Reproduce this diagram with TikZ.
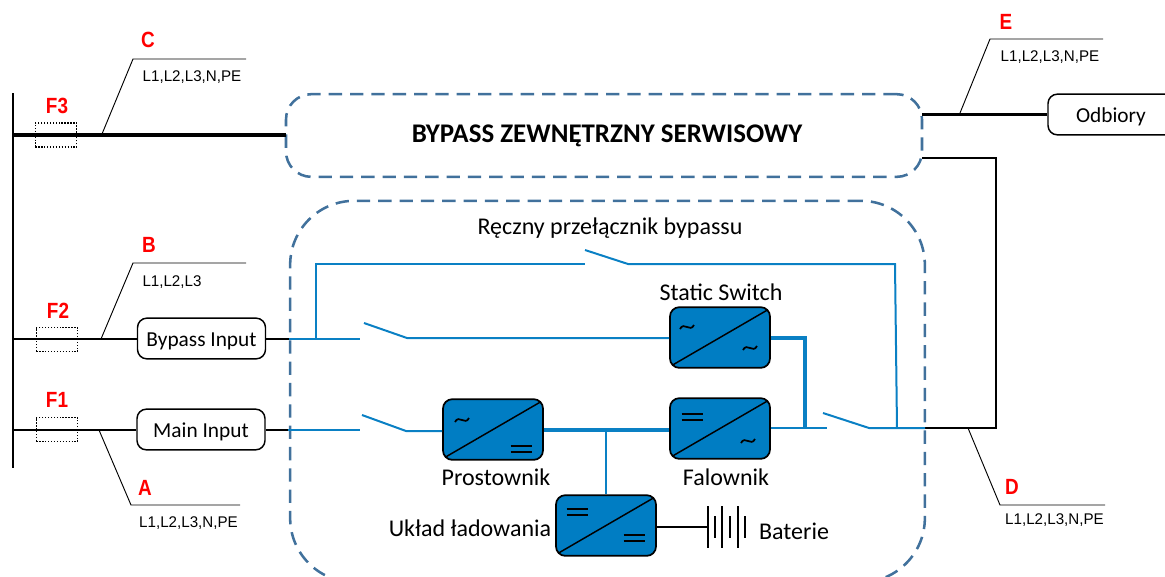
\documentclass[tikz,border=0pt]{standalone}
\usepackage{fontspec}
\setmainfont{Carlito}
\newfontfamily\tagfont[FakeStretch=0.98]{Liberation Sans}
\newfontfamily\markfont[FakeStretch=0.86]{Liberation Sans}
\usepackage{tikz}
\usetikzlibrary{calc}
\definecolor{wireblue}{HTML}{0A80C4}
\definecolor{boxblue}{HTML}{007DC3}
\definecolor{dashblue}{HTML}{41719C}
\tikzset{
    wire/.style={line width=1.5pt, wireblue},
    busline/.style={line width=2.3pt, wireblue},
    feed/.style={line width=1.5pt, black},
    mainfeed/.style={line width=2.3pt, black},
    leader/.style={line width=0.7pt, black},
    fuse/.style={draw, dash pattern=on 1pt off 1.2pt, line width=1pt, minimum width=31pt, minimum height=18pt, inner sep=0pt},
    inbox/.style={draw, line width=1.1pt, rounded corners=7pt, minimum width=96pt, minimum height=30.5pt, inner sep=0pt, text height=12pt, text depth=0pt, font=\fontsize{16}{18}\selectfont},
    conv/.style={draw, fill=boxblue, line width=1.3pt, rounded corners=7pt, minimum width=75pt, minimum height=45.5pt, inner sep=0pt},
    dashbox/.style={draw=dashblue, line width=1.9pt, dash pattern=on 10pt off 6pt, rounded corners=19pt, inner sep=0pt},
    lab/.style={inner sep=0pt, font=\fontsize{18}{20}\selectfont},
    tag/.style={inner sep=0pt, font=\tagfont\fontsize{11.6}{14}\selectfont},
    redtag/.style={inner sep=0pt, red, font=\markfont\bfseries\fontsize{16.5}{20}\selectfont},
    dcmark/.pic={\draw[line width=1.2pt] (-10.5,-3) -- (10.5,-3); \draw[line width=1.2pt] (-10.5,3) -- (10.5,3);},
    acmark/.pic={\draw[line width=1.3pt] (-7,2) .. controls (-3,-6) and (3,6) .. (7,-2);}
}
\begin{document}
\begin{tikzpicture}[x=0.75pt, y=-0.75pt]
    \clip (0,0) rectangle (1165,576);

    % bus and fuses
    \coordinate (bustop) at (13,93);
    \coordinate (busbot) at (13,468);
    \draw[line width=1.5pt] (bustop) -- (busbot);
    \node[fuse] (fthree) at (56,135) {};
    \node[fuse] (ftwo) at (57,339.5) {};
    \node[fuse] (fone) at (57,429.5) {};
    \node[redtag] (fthreelab) at (57,106) {F3};
    \node[redtag] (ftwolab) at (58,311) {F2};
    \node[redtag] (fonelab) at (57,400) {F1};

    % input and output boxes
    \node[inbox] (bypassin) at (201.5,338.5) {Bypass Input};
    \node[inbox] (mainin) at (201,429.5) {Main Input};
    \node[inbox, minimum width=94.5pt] (odbiory) at (1111,114.5) {Odbiory};
    \node[dashbox, minimum width=477pt, minimum height=62pt] (serwis) at (604,135.5) {};
    \node[inner sep=0pt, font=\bfseries\fontsize{20.2}{22}\selectfont] (serwislab) at (607,136) {BYPASS ZEWNĘTRZNY SERWISOWY};
    \node[dashbox, rounded corners=48pt, minimum width=476pt, minimum height=286pt] (ups) at (607.5,391.5) {};

    % converters
    \node[conv] (static) at (720,337.5) {};
    \node[conv] (prost) at (493,429.5) {};
    \node[conv] (fal) at (720,428.5) {};
    \node[conv] (lad) at (606,525.5) {};
    \foreach \c in {static,prost,fal,lad}
        \draw[line width=1.1pt] ([xshift=3pt,yshift=3pt]\c.south west) -- ([xshift=-3pt,yshift=-3pt]\c.north east);
    \pic at (687,327) {acmark};
    \pic at (750,348) {acmark};
    \pic at (462,420) {acmark};
    \pic at (521,449) {dcmark};
    \pic at (692,417) {dcmark};
    \pic at (748,441) {acmark};
    \pic at (577,512) {dcmark};
    \pic at (634,538) {dcmark};

    % black feeds
    \coordinate (cfeed) at (286,135);
    \coordinate (eout) at (922,114.5);
    \coordinate (dout) at (922,158);
    \coordinate (dcor) at (996,158);
    \coordinate (dbot) at (996,428);
    \coordinate (dend) at (925,428);
    \coordinate (bedge) at (289,338.5);
    \coordinate (medge) at (288,429.5);
    \draw[mainfeed] (bustop |- fthree) -- (cfeed);
    \draw[feed] (bustop |- bypassin) -- (bypassin);
    \draw[feed] (bustop |- mainin) -- (mainin);
    \draw[feed] (bypassin) -- (bedge);
    \draw[feed] (mainin) -- (medge);
    \draw[mainfeed] (eout) -- (odbiory);
    \draw[feed] (dout) -- (dcor) -- (dbot) -- (dend);

    % blue wiring
    \coordinate (bstub) at (360,338.5);
    \coordinate (bsw) at (364,323);
    \coordinate (bpiv) at (407,338);
    \coordinate (mstub) at (360,429.5);
    \coordinate (msw) at (362,415);
    \coordinate (mpiv) at (406,431);
    \coordinate (tap) at (316,338.5);
    \coordinate (tapup) at (316,264);
    \coordinate (topl) at (585,264);
    \coordinate (tops) at (585,250);
    \coordinate (topr) at (628,264);
    \coordinate (tcor) at (895,264);
    \coordinate (tdn) at (897,428);
    \coordinate (ojoin) at (805,428);
    \coordinate (ocor) at (805,338);
    \coordinate (ostub) at (827,428);
    \coordinate (osw) at (823,413);
    \coordinate (opiv) at (869,428);
    \coordinate (dcjoin) at (606,430);
    \draw[wire] (bedge) -- (bstub);
    \draw[wire] (bsw) -- (bpiv) -- (static.west |- bpiv);
    \draw[wire] (medge) -- (mstub);
    \draw[wire] (msw) -- (mpiv) -- (prost.west |- mpiv);
    \draw[wire] (tap) -- (tapup) -- (topl);
    \draw[wire] (tops) -- (topr) -- (tcor) -- (tdn);
    \draw[busline] (prost.east |- dcjoin) -- (fal.west |- dcjoin);
    \draw[wire] (dcjoin) -- (lad.north -| dcjoin);
    \draw[busline] (static.east |- ocor) -- (ocor) -- (ojoin);
    \draw[wire] (fal.east |- ojoin) -- (ostub);
    \draw[wire] (osw) -- (opiv) -- (dend);

    % battery
    \coordinate (batl) at (708,527);
    \draw[feed] (lad.east |- batl) -- (batl);
    \foreach \x/\h in {708/21,715/11,722/21,730/11,738/21,745/11}
        \draw[line width=0.9pt] (\x,527-\h) -- (\x,527+\h);

    % labels
    \node[lab] (staticlab) at (721,292) {Static Switch};
    \node[lab] (prostlab) at (496,477) {Prostownik};
    \node[lab] (fallab) at (726,477) {Falownik};
    \node[lab] (ladlab) at (470,528) {Układ ładowania};
    \node[lab] (batlab) at (794,531) {Baterie};
    \node[lab] (manlab) at (610,228) {Ręczny przełącznik bypassu};

    % leaders
    \coordinate (la) at (99,430);
    \coordinate (lb) at (131,505);
    \coordinate (lc) at (240,505);
    \draw[leader] (la) -- (lb) -- (lc);
    \coordinate (lf) at (101,339);
    \coordinate (lg) at (133,263);
    \coordinate (lh) at (246,263);
    \draw[leader] (lf) -- (lg) -- (lh);
    \coordinate (li) at (102,134);
    \coordinate (lj) at (133,59);
    \coordinate (lk) at (246,59);
    \draw[leader] (li) -- (lj) -- (lk);
    \coordinate (ll) at (960,113);
    \coordinate (lm) at (990,39);
    \coordinate (ln) at (1103,39);
    \draw[leader] (ll) -- (lm) -- (ln);
    \coordinate (lo) at (968,428);
    \coordinate (lp) at (1000,505);
    \coordinate (lq) at (1105,505);
    \draw[leader] (lo) -- (lp) -- (lq);

    \node[redtag] (atag) at (145,488) {A};
    \node[redtag] (btag) at (149,245) {B};
    \node[redtag] (ctag) at (148,40) {C};
    \node[redtag] (dtag) at (1012,487) {D};
    \node[redtag] (etag) at (1006,22) {E};
    \node[tag] (atext) at (188.5,523) {L1,L2,L3,N,PE};
    \node[tag] (btext) at (172,282) {L1,L2,L3};
    \node[tag] (ctext) at (192,77) {L1,L2,L3,N,PE};
    \node[tag] (dtext) at (1054.5,520) {L1,L2,L3,N,PE};
    \node[tag] (etext) at (1050,57) {L1,L2,L3,N,PE};
\end{tikzpicture}
\end{document}
